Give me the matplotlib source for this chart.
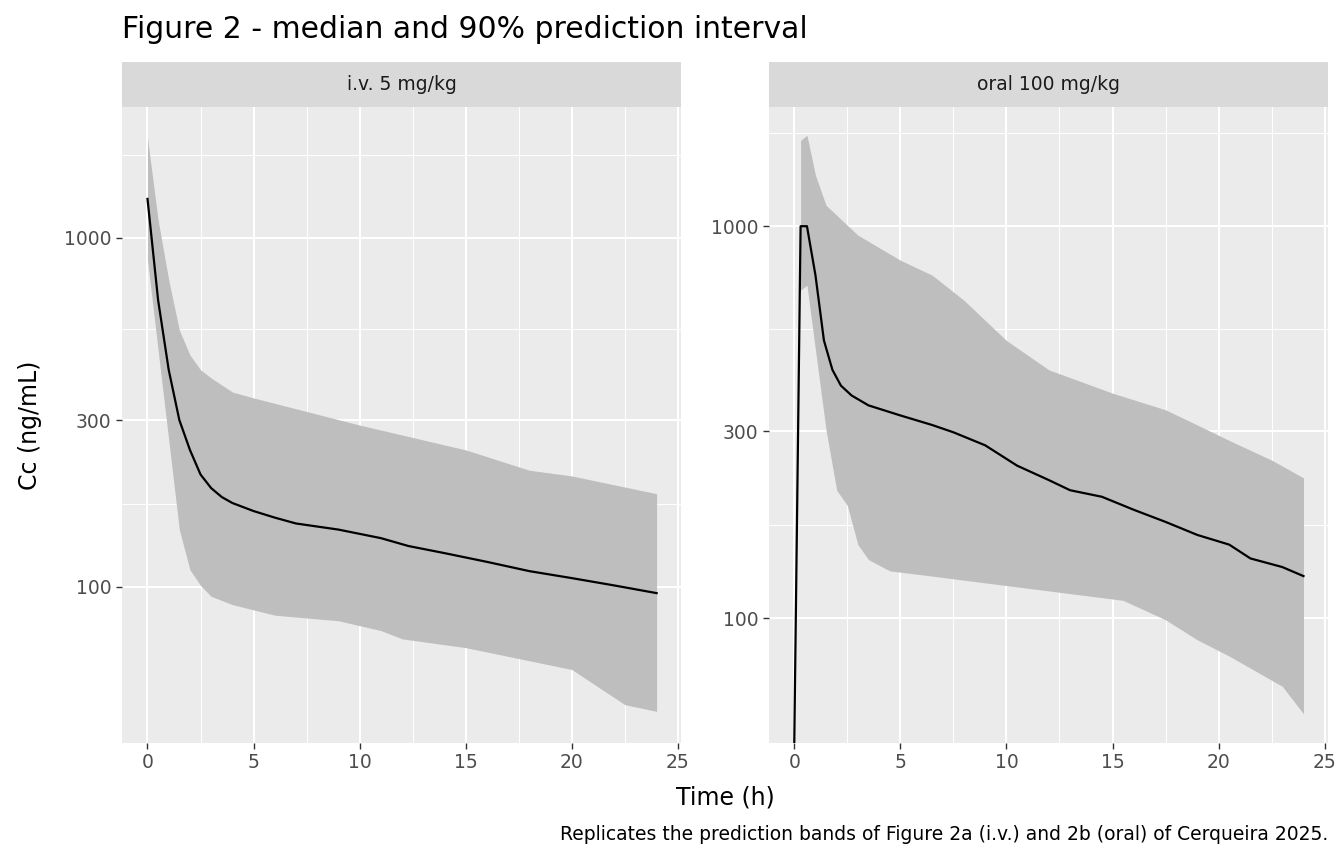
import numpy as np
import matplotlib
matplotlib.use("Agg")
import matplotlib.pyplot as plt
from matplotlib.ticker import FixedLocator, NullFormatter

# i.v. 5 mg/kg
iv_t_med = [0, 0.5, 1, 1.5, 2, 2.5, 3, 3.5, 4, 5, 6, 7, 9, 11, 12.3, 14, 16, 18, 20, 22, 24]
iv_med = [1294, 664, 419, 301, 247, 210, 192, 181, 174, 165, 158, 152, 146, 138, 131, 125, 118, 111, 106, 101, 96]
iv_t_hi = [0, 0.5, 1, 1.5, 2, 2.5, 3, 4, 5, 10, 15, 18, 20, 24]
iv_hi = [1935, 1126, 758, 545, 462, 419, 397, 362, 348, 291, 247, 216, 208, 185]
iv_t_lo = [0, 0.5, 1, 1.5, 2, 2.5, 3, 4, 6, 9, 11, 12, 15, 20, 22.5, 24]
iv_lo = [865, 477, 264, 146, 112, 101, 94, 89, 83, 80, 75, 71, 67, 58, 46, 44]

# oral 100 mg/kg
po_t_med = [0, 0.3, 0.6, 1, 1.4, 1.8, 2.2, 2.7, 3.5, 5, 6.5, 7.5, 9, 10.5, 12, 13, 14.5, 16, 17.5, 19, 20.5, 21.5, 23, 24]
po_med = [47, 1000, 1000, 750, 511, 430, 392, 370, 349, 329, 311, 298, 276, 245, 225, 212, 204, 189, 176, 163, 154, 142, 135, 128]
po_t_hi = [0.3, 0.6, 1, 1.5, 2.5, 3, 5, 6.5, 8, 10, 12, 15, 17.5, 19, 20.5, 22.5, 24]
po_hi = [1656, 1706, 1349, 1131, 1006, 949, 819, 750, 647, 511, 430, 375, 340, 311, 284, 253, 228]
po_t_lo = [0.3, 0.6, 1, 1.5, 2, 2.5, 3, 3.5, 4.5, 6, 15.5, 17.5, 19, 20.5, 23, 24]
po_lo = [687, 707, 483, 302, 212, 194, 154, 141, 132, 129, 111, 99, 88, 80, 67, 57]

panels = [
    ("i.v. 5 mg/kg", iv_t_med, iv_med, iv_t_hi, iv_hi, iv_t_lo, iv_lo, (35.7, 2371), [0.0908, 0.5067]),
    ("oral 100 mg/kg", po_t_med, po_med, po_t_hi, po_hi, po_t_lo, po_lo, (48, 2013), [0.572, 0.988]),
]

fig = plt.figure(figsize=(13.44, 8.64), dpi=100)
fig.patch.set_facecolor("white")
for title, tm, med, th, hi, tl, lo, ylim, (x0, x1) in panels:
    ax = fig.add_axes([x0, 0.140, x1 - x0, 0.876 - 0.140])
    ax.set_facecolor("#EBEBEB")
    tb = np.union1d(th, tl)
    ub = np.exp(np.interp(tb, th, np.log(hi)))
    lb = np.exp(np.interp(tb, tl, np.log(lo)))
    ax.fill_between(tb, lb, ub, color="#BEBEBE", lw=0, zorder=2)
    ax.plot(tm, med, color="black", lw=1.6, zorder=3)
    ax.set_yscale("log")
    ax.set_ylim(*ylim)
    ax.set_xlim(-1.2, 25.15)
    maj = [100, 300, 1000]
    ax.yaxis.set_major_locator(FixedLocator(maj))
    ax.set_yticklabels(["100", "300", "1000"])
    lg = np.log10([10] + maj + [3000])
    minor = 10 ** ((lg[:-1] + lg[1:]) / 2)
    ax.yaxis.set_minor_locator(FixedLocator(minor))
    ax.yaxis.set_minor_formatter(NullFormatter())
    ax.set_xticks([0, 5, 10, 15, 20, 25])
    ax.set_xticks([2.5, 7.5, 12.5, 17.5, 22.5], minor=True)
    ax.grid(which="major", color="white", lw=1.5, zorder=1)
    ax.grid(which="minor", color="white", lw=0.7, zorder=1)
    ax.set_axisbelow(True)
    for s in ax.spines.values():
        s.set_visible(False)
    ax.tick_params(which="major", colors="#333333", labelcolor="#4D4D4D", labelsize=13.5, length=4, width=1)
    ax.tick_params(which="minor", length=0)
    # strip
    sax = fig.add_axes([x0, 0.876, x1 - x0, 0.052])
    sax.set_facecolor("#D9D9D9")
    sax.set_xticks([]); sax.set_yticks([])
    for s in sax.spines.values():
        s.set_visible(False)
    sax.text(0.5, 0.5, title, ha="center", va="center", fontsize=13.5, color="#1A1A1A", transform=sax.transAxes)

fig.text(122 / 1344, 1 - 30 / 864, "Figure 2 - median and 90% prediction interval", fontsize=21.5, ha="left", va="center")
fig.text(30 / 1344, 1 - 425 / 864, "Cc (ng/mL)", fontsize=17, rotation=90, ha="center", va="center")
fig.text(725 / 1344, 1 - 797 / 864, "Time (h)", fontsize=17, ha="center", va="center")
fig.text(1328 / 1344, 1 - 835 / 864, "Replicates the prediction bands of Figure 2a (i.v.) and 2b (oral) of Cerqueira 2025.",
         fontsize=13.5, ha="right", va="center")
fig.savefig("out.png", dpi=100)
